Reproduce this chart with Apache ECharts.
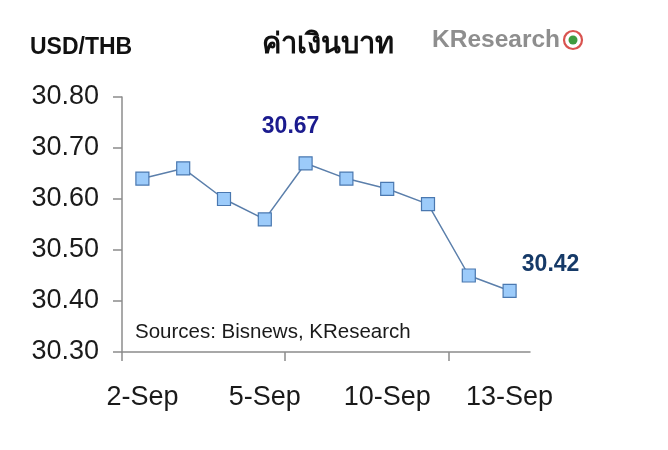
<!DOCTYPE html>
<html>
<head>
<meta charset="utf-8">
<script src="https://cdn.jsdelivr.net/npm/echarts@6/dist/echarts.min.js"></script>
<style>html,body{margin:0;padding:0;background:#fff}#c{width:668px;height:450px}</style>
</head>
<body>
<div id="c"></div>
<script>
const categories = ['2-Sep','3-Sep','4-Sep','5-Sep','6-Sep','9-Sep','10-Sep','11-Sep','12-Sep','13-Sep'];
const rates = [30.64, 30.66, 30.60, 30.56, 30.67, 30.64, 30.62, 30.59, 30.45, 30.42];
const yTicks = [30.30, 30.40, 30.50, 30.60, 30.70, 30.80];
const labeledPoints = [4, 9];
const labelColors = ['#1b1b8e', '#163a68'];
const labelOffsets = [[-15, -37], [41, -26]];

const chart = echarts.init(document.getElementById('c'), null, {renderer: 'canvas'});
const FONT = 'Liberation Sans, Arial, sans-serif';

const seriesData = rates.map((v, i) => {
  const k = labeledPoints.indexOf(i);
  if (k < 0) return v;
  return {
    value: v,
    label: {
      show: true,
      position: 'inside',
      offset: labelOffsets[k],
      formatter: (p) => p.value.toFixed(2),
      color: labelColors[k],
      fontSize: 23,
      fontWeight: 'bold',
      fontFamily: FONT
    }
  };
});

const gridTop = 97, gridBottom = 98, gridLeft = 122, gridRight = 138;
const plotW = 668 - gridLeft - gridRight;

chart.setOption({
  animation: false,
  backgroundColor: '#ffffff',
  grid: [
    {left: gridLeft, right: gridRight, top: gridTop, bottom: gridBottom},
    {left: gridLeft, width: plotW * 8 / 10, top: gridTop, bottom: gridBottom}
  ],
  xAxis: [
    {
      type: 'category',
      gridIndex: 0,
      data: categories,
      boundaryGap: true,
      axisLine: {lineStyle: {color: '#8c8c8c', width: 1.5}},
      axisTick: {show: false},
      axisLabel: {
        interval: 2,
        margin: 32,
        color: '#1a1a1a',
        fontSize: 27,
        fontFamily: FONT
      },
      splitLine: {show: false}
    },
    {
      type: 'value',
      gridIndex: 1,
      min: 0,
      max: 8,
      interval: 4,
      axisLine: {show: false},
      axisTick: {show: true, length: 9, lineStyle: {color: '#8c8c8c', width: 1.5}},
      axisLabel: {show: false},
      splitLine: {show: false}
    }
  ],
  yAxis: [
    {
      type: 'value',
      gridIndex: 0,
      min: yTicks[0],
      max: yTicks[yTicks.length - 1],
      interval: 0.1,
      axisLine: {show: true, lineStyle: {color: '#8c8c8c', width: 1.5}},
      axisTick: {show: true, length: 9, lineStyle: {color: '#8c8c8c', width: 1.5}},
      axisLabel: {
        margin: 23,
        color: '#1a1a1a',
        fontSize: 27,
        fontFamily: FONT,
        formatter: (v) => v.toFixed(2)
      },
      splitLine: {show: false}
    },
    {
      type: 'value',
      gridIndex: 1,
      show: false,
      min: 0,
      max: 1
    }
  ],
  series: [{
    type: 'line',
    xAxisIndex: 0,
    yAxisIndex: 0,
    data: seriesData,
    symbol: 'rect',
    symbolSize: 13,
    showAllSymbol: true,
    lineStyle: {color: '#5b7fab', width: 1.5},
    itemStyle: {color: '#9ccbfa', borderColor: '#4a78b0', borderWidth: 1.2},
    label: {show: false}
  }],
  graphic: [
    {type: 'text', left: 30, top: 36, style: {text: 'USD/THB', font: 'bold 23px ' + FONT, fill: '#111'}},
    {type: 'text', left: 262, top: 30, style: {text: 'ค่าเงินบาท', font: 'bold 29px "Noto Sans", "DejaVu Sans", sans-serif', fill: '#111'}},
    {type: 'text', left: 432, top: 28, style: {text: 'KResearch', font: 'bold 24.5px ' + FONT, fill: '#8e8e8e'}},
    {type: 'circle', shape: {cx: 573, cy: 40, r: 9}, style: {fill: '#fff', stroke: '#d9534f', lineWidth: 2.2}},
    {type: 'circle', shape: {cx: 573, cy: 40, r: 4.5}, style: {fill: '#3f9b3f'}},
    {type: 'text', left: 135, top: 322, style: {text: 'Sources: Bisnews, KResearch', font: '20.5px ' + FONT, fill: '#1a1a1a'}}
  ]
});
</script>
</body>
</html>
